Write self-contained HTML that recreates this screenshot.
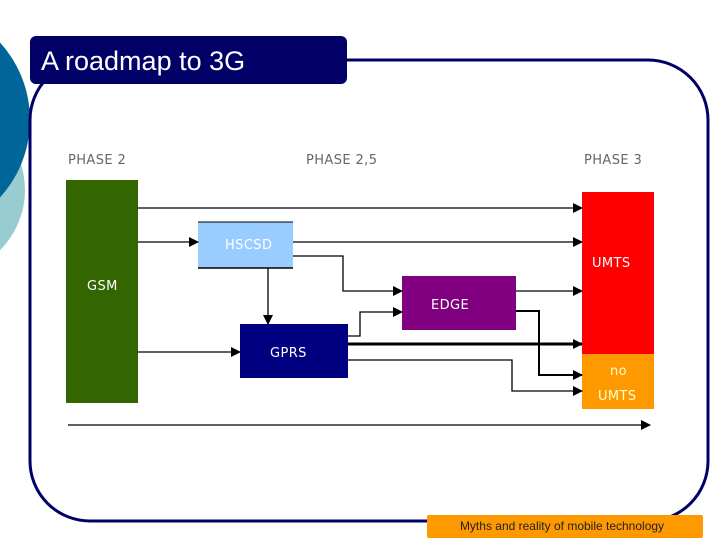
<!DOCTYPE html>
<html><head><style>
body{margin:0;width:720px;height:540px;overflow:hidden;background:#fff;position:relative;font-family:"Liberation Sans",sans-serif}
</style></head><body>
<svg width="720" height="540" style="position:absolute;left:0;top:0" font-family="Liberation Sans, sans-serif">
<defs><marker id="a" markerWidth="10" markerHeight="10" refX="9" refY="5" orient="auto" markerUnits="userSpaceOnUse"><path d="M0,0 L10,5 L0,10 z" fill="#000"/></marker></defs>
<circle cx="-60" cy="190" r="85" fill="#99ccd0"/>
<circle cx="-85" cy="120" r="115" fill="#006699"/>
<rect x="30" y="60" width="678" height="461" rx="60" fill="#fff" stroke="#000066" stroke-width="3"/>
<rect x="30" y="36" width="317" height="48" rx="6" fill="#000066"/>
<text x="41" y="70" font-size="27" fill="#fff">A roadmap to 3G</text>
<g font-size="13" fill="#666" font-family="DejaVu Sans, sans-serif" letter-spacing="0.4"><text x="68" y="164">PHASE 2</text><text x="306" y="164">PHASE 2,5</text><text x="584" y="164">PHASE 3</text></g>
<rect x="66" y="180" width="72" height="223" fill="#336600"/>
<rect x="198" y="222" width="95" height="46" fill="#99ccff"/>
<line x1="198" y1="222" x2="293" y2="222" stroke="#000"/><line x1="198" y1="268" x2="293" y2="268" stroke="#000" stroke-width="1.5"/>
<rect x="240" y="324" width="108" height="54" fill="#000080"/>
<rect x="402" y="276" width="114" height="54" fill="#800080"/>
<rect x="582" y="192" width="72" height="162" fill="#ff0000"/>
<rect x="582" y="354" width="72" height="55" fill="#ff9900"/>
<g font-size="13" fill="#fff" font-family="DejaVu Sans, sans-serif" letter-spacing="0.4"><text x="87" y="290">GSM</text><text x="225" y="249">HSCSD</text><text x="270" y="357">GPRS</text><text x="431" y="309">EDGE</text><text x="592" y="267">UMTS</text><text x="610" y="375" fill="#ffffcc">no</text><text x="598" y="400" fill="#ffffcc">UMTS</text></g>
<g stroke="#000" stroke-width="1.3" fill="none" marker-end="url(#a)">
<path d="M138 208H582"/>
<path d="M138 242H198"/>
<path d="M293 242H582"/>
<path d="M293 256H343V291H402"/>
<path d="M268 268V324"/>
<path d="M138 352H240"/>
<path d="M348 336H360V312H402"/>
<path d="M516 291H582"/>
<path d="M516 311H539V375H582" stroke-width="2"/>
<path d="M348 344H582" stroke-width="3"/>
<path d="M348 360H512V391H582"/>
<path d="M68 425H650"/>
</g>
<rect x="427" y="515" width="276" height="23" rx="2" fill="#ff9900"/>
<text x="562" y="530" font-size="12" fill="#222" text-anchor="middle">Myths and reality of mobile technology</text>
</svg>
</body></html>
